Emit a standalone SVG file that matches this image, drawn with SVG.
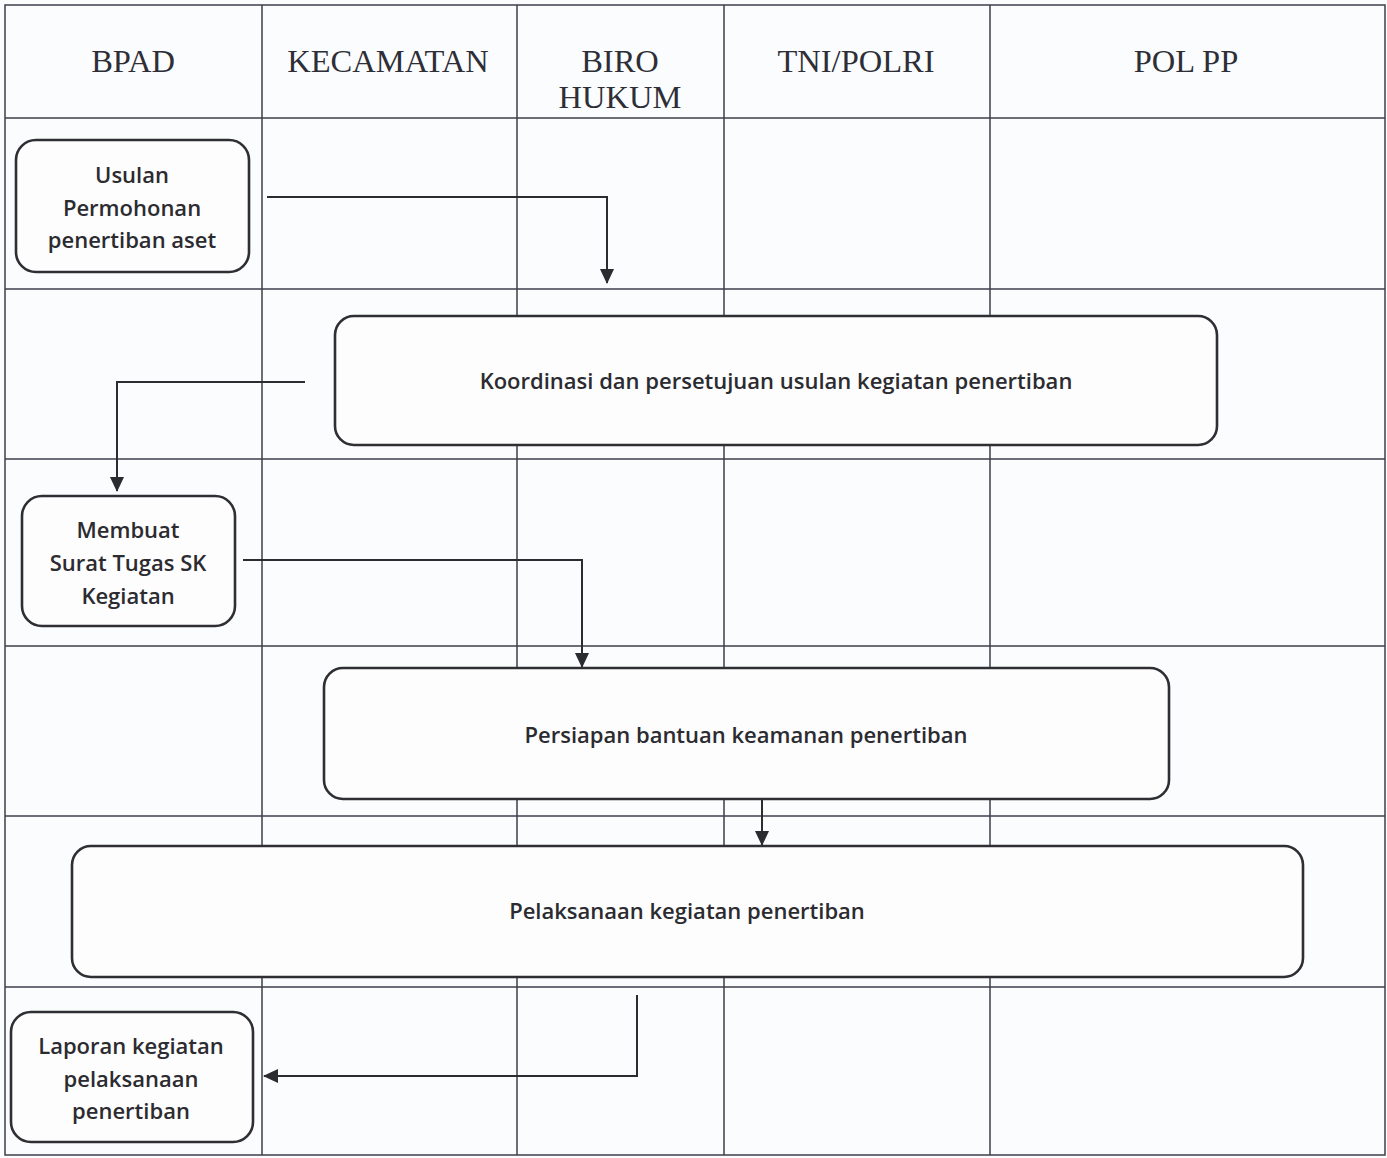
<svg xmlns="http://www.w3.org/2000/svg" width="1387" height="1158" viewBox="0 0 1387 1158">
<style>
.grid{stroke:#3d3f4a;stroke-width:1.5;fill:none}
.box{fill:#fdfdfe;stroke:#2e2e33;stroke-width:2.6}
.hdr{font-family:"Liberation Serif","Times New Roman",serif;font-size:32.5px;fill:#2e2e36;text-anchor:middle}
.txt{font-family:"Open Sans","Noto Sans",sans-serif;font-size:22px;font-weight:600;fill:#2b2b30;text-anchor:middle}
.con{stroke:#2b2b30;stroke-width:2;fill:none}
</style>
<defs>
<marker id="arr" viewBox="0 0 15 14" refX="14" refY="7" markerWidth="15" markerHeight="14" markerUnits="userSpaceOnUse" orient="auto">
<path d="M0,0 L15,7 L0,14 Z" fill="#2b2b30"/>
</marker>
</defs>
<rect x="0" y="0" width="1387" height="1158" fill="#fbfcfe"/>
<g id="grid">
<rect class="grid" x="5" y="5" width="1380" height="1150"/>
<line class="grid" x1="262" y1="5" x2="262" y2="1155"/>
<line class="grid" x1="517" y1="5" x2="517" y2="1155"/>
<line class="grid" x1="724" y1="5" x2="724" y2="1155"/>
<line class="grid" x1="990" y1="5" x2="990" y2="1155"/>
<line class="grid" x1="5" y1="118" x2="1385" y2="118"/>
<line class="grid" x1="5" y1="289" x2="1385" y2="289"/>
<line class="grid" x1="5" y1="459" x2="1385" y2="459"/>
<line class="grid" x1="5" y1="646" x2="1385" y2="646"/>
<line class="grid" x1="5" y1="816" x2="1385" y2="816"/>
<line class="grid" x1="5" y1="987" x2="1385" y2="987"/>
</g>
<g id="headers">
<text class="hdr" x="133" y="72">BPAD</text>
<text class="hdr" x="388" y="72">KECAMATAN</text>
<text class="hdr" x="620" y="72">BIRO</text>
<text class="hdr" x="620" y="108">HUKUM</text>
<text class="hdr" x="856" y="72">TNI/POLRI</text>
<text class="hdr" x="1186" y="72">POL PP</text>
</g>
<g id="connectors">
<polyline class="con" points="267,197 607,197 607,283" marker-end="url(#arr)"/>
<polyline class="con" points="305,382 117,382 117,491" marker-end="url(#arr)"/>
<polyline class="con" points="243,560 582,560 582,667" marker-end="url(#arr)"/>
<polyline class="con" points="762,800 762,845" marker-end="url(#arr)"/>
<polyline class="con" points="637,995 637,1076 264,1076" marker-end="url(#arr)"/>
</g>
<g id="n1">
<rect class="box" x="16" y="140" width="233" height="132" rx="20"/>
<text class="txt" x="132" y="183">Usulan</text>
<text class="txt" x="132" y="216">Permohonan</text>
<text class="txt" x="132" y="248">penertiban aset</text>
</g>
<g id="n2">
<rect class="box" x="335" y="316" width="882" height="129" rx="19"/>
<text class="txt" x="776" y="389">Koordinasi dan persetujuan usulan kegiatan penertiban</text>
</g>
<g id="n3">
<rect class="box" x="22" y="496" width="213" height="130" rx="20"/>
<text class="txt" x="128" y="538">Membuat</text>
<text class="txt" x="128" y="571">Surat Tugas SK</text>
<text class="txt" x="128" y="604">Kegiatan</text>
</g>
<g id="n4">
<rect class="box" x="324" y="668" width="845" height="131" rx="19"/>
<text class="txt" x="746" y="743">Persiapan bantuan keamanan penertiban</text>
</g>
<g id="n5">
<rect class="box" x="72" y="846" width="1231" height="131" rx="19"/>
<text class="txt" x="687" y="919">Pelaksanaan kegiatan penertiban</text>
</g>
<g id="n6">
<rect class="box" x="11" y="1012" width="242" height="130" rx="20"/>
<text class="txt" x="131" y="1054">Laporan kegiatan</text>
<text class="txt" x="131" y="1087">pelaksanaan</text>
<text class="txt" x="131" y="1119">penertiban</text>
</g>
</svg>
